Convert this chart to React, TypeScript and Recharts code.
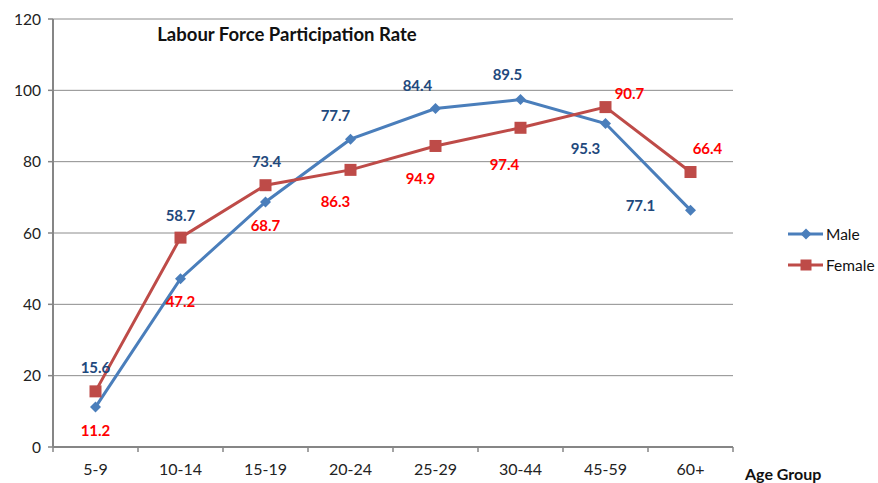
import React from "react";
import {
  LineChart,
  Line,
  XAxis,
  YAxis,
  CartesianGrid,
  Legend,
  LabelList,
} from "recharts";

const CATEGORIES = ["5-9", "10-14", "15-19", "20-24", "25-29", "30-44", "45-59", "60+"];
const MALE = [11.2, 47.2, 68.7, 86.3, 94.9, 97.4, 90.7, 66.4];
const FEMALE = [15.6, 58.7, 73.4, 77.7, 84.4, 89.5, 95.3, 77.1];
const Y_TICKS = [0, 20, 40, 60, 80, 100, 120];

const WIDTH = 878;
const HEIGHT = 483;
const MARGIN = { top: 19, right: 145, bottom: 0, left: 0 };
const Y_AXIS_WIDTH = 53;
const X_AXIS_HEIGHT = 36;
const BAND = (WIDTH - MARGIN.right - Y_AXIS_WIDTH) / CATEGORIES.length;

const FONT = "Lato, 'Open Sans', sans-serif";
const AXIS_COLOR = "#868686";
const GRID_COLOR = "#8c8c8c";
const MALE_COLOR = "#4A7EBB";
const FEMALE_COLOR = "#BE4B48";
const BLUE_LABEL = "#1F497D";
const RED_LABEL = "#FF0000";

// the source chart has its data labels swapped: the blue labels sit on the
// male line but read the female values, and the red ones the other way round.
// these are hand nudges, like the ones made in the original spreadsheet
const BLUE_OFFSETS = [[0, -39], [0, -63], [1, -40], [-15, -23], [-18, -23], [-13, -25], [-20, 25], [-50, -4]];
const RED_OFFSETS = [[0, 40], [0, 64], [0, 41], [-15, 32], [-15, 33], [-16, 37], [24, -13], [17, -23]];

const data = CATEGORIES.map((name, i) => ({
  name,
  male: MALE[i],
  female: FEMALE[i],
}));

const Diamond = ({ cx, cy, fill, r = 5.5 }: { cx: number; cy: number; fill: string; r?: number }) => (
  <polygon
    points={`${cx},${cy - r} ${cx + r},${cy} ${cx},${cy + r} ${cx - r},${cy}`}
    fill={fill}
  />
);

const Square = ({ cx, cy, fill, s = 12 }: { cx: number; cy: number; fill: string; s?: number }) => (
  <rect x={cx - s / 2} y={cy - s / 2} width={s} height={s} fill={fill} />
);

const makeLabel =
  (offsets: number[][], color: string) =>
  (props: any) => {
    const { x, y, value, index } = props;
    if (x == null || y == null) return null;
    const [dx, dy] = offsets[index] || [0, 0];
    return (
      <text
        x={x + dx}
        y={y + dy + 5}
        textAnchor="middle"
        fill={color}
        fontFamily={FONT}
        fontWeight={700}
        fontSize={15}
      >
        {value}
      </text>
    );
  };

const XTick = (props: any) => {
  const { x, y, payload } = props;
  const half = BAND / 2;
  const last = payload.value === CATEGORIES[CATEGORIES.length - 1];
  return (
    <g>
      <line x1={x - half} y1={y} x2={x - half} y2={y + 5} stroke={AXIS_COLOR} strokeWidth={1.5} />
      {last && (
        <line x1={x + half} y1={y} x2={x + half} y2={y + 5} stroke={AXIS_COLOR} strokeWidth={1.5} />
      )}
      <text x={x} y={y + 28} textAnchor="middle" fill="#222" fontFamily={FONT} fontSize={16}>
        {payload.value}
      </text>
    </g>
  );
};

const renderLegend = () => (
  <div style={{ fontFamily: FONT, fontSize: 15.5, color: "#111" }}>
    {[
      { label: "Male", color: MALE_COLOR, shape: "diamond" },
      { label: "Female", color: FEMALE_COLOR, shape: "square" },
    ].map((item) => (
      <div key={item.label} style={{ display: "flex", alignItems: "center", height: 31 }}>
        <svg width={38} height={14} style={{ marginRight: 2 }}>
          <line x1={2} y1={7} x2={37} y2={7} stroke={item.color} strokeWidth={3} />
          {item.shape === "diamond" ? (
            <Diamond cx={20} cy={7} fill={item.color} />
          ) : (
            <Square cx={20} cy={7} fill={item.color} s={11} />
          )}
        </svg>
        <span>{item.label}</span>
      </div>
    ))}
  </div>
);

export default function App() {
  return (
    <div style={{ position: "relative", width: WIDTH, height: HEIGHT }}>
      <style>{`body{margin:0}`}</style>
      <LineChart width={WIDTH} height={HEIGHT} data={data} margin={MARGIN}>
        <CartesianGrid vertical={false} stroke={GRID_COLOR} strokeWidth={1} />
        <XAxis
          dataKey="name"
          scale="band"
          interval={0}
          height={X_AXIS_HEIGHT}
          axisLine={{ stroke: AXIS_COLOR, strokeWidth: 2 }}
          tickLine={false}
          tickSize={0}
          tickMargin={0}
          tick={<XTick />}
        />
        <YAxis
          width={Y_AXIS_WIDTH}
          domain={[0, 120]}
          ticks={Y_TICKS}
          interval={0}
          axisLine={{ stroke: AXIS_COLOR, strokeWidth: 2 }}
          tickLine={{ stroke: AXIS_COLOR, strokeWidth: 1.5 }}
          tickSize={5}
          tickMargin={7}
          tick={{ fill: "#222", fontFamily: FONT, fontSize: 15.5 }}
        />
        <Legend
          layout="horizontal"
          verticalAlign="middle"
          align="center"
          content={renderLegend}
          wrapperStyle={{ position: "absolute", left: 786, top: 218, width: 92 }}
        />
        <Line
          type="linear"
          dataKey="male"
          name="Male"
          stroke={MALE_COLOR}
          strokeWidth={3}
          dot={(p: any) => <Diamond key={`m-${p.index}`} cx={p.cx} cy={p.cy} fill={MALE_COLOR} />}
          activeDot={false}
          isAnimationActive={false}
        >
          <LabelList dataKey="female" content={makeLabel(BLUE_OFFSETS, BLUE_LABEL)} />
        </Line>
        <Line
          type="linear"
          dataKey="female"
          name="Female"
          stroke={FEMALE_COLOR}
          strokeWidth={3}
          dot={(p: any) => <Square key={`f-${p.index}`} cx={p.cx} cy={p.cy} fill={FEMALE_COLOR} />}
          activeDot={false}
          isAnimationActive={false}
        >
          <LabelList dataKey="male" content={makeLabel(RED_OFFSETS, RED_LABEL)} />
        </Line>
      </LineChart>
      <svg
        width={WIDTH}
        height={HEIGHT}
        style={{ position: "absolute", left: 0, top: 0, pointerEvents: "none" }}
      >
        <text x={287} y={41} textAnchor="middle" fontFamily={FONT} fontWeight={700} fontSize={18.5} fill="#111">
          Labour Force Participation Rate
        </text>
        <text x={745} y={480} fontFamily={FONT} fontWeight={700} fontSize={16} fill="#111">
          Age Group
        </text>
      </svg>
    </div>
  );
}
